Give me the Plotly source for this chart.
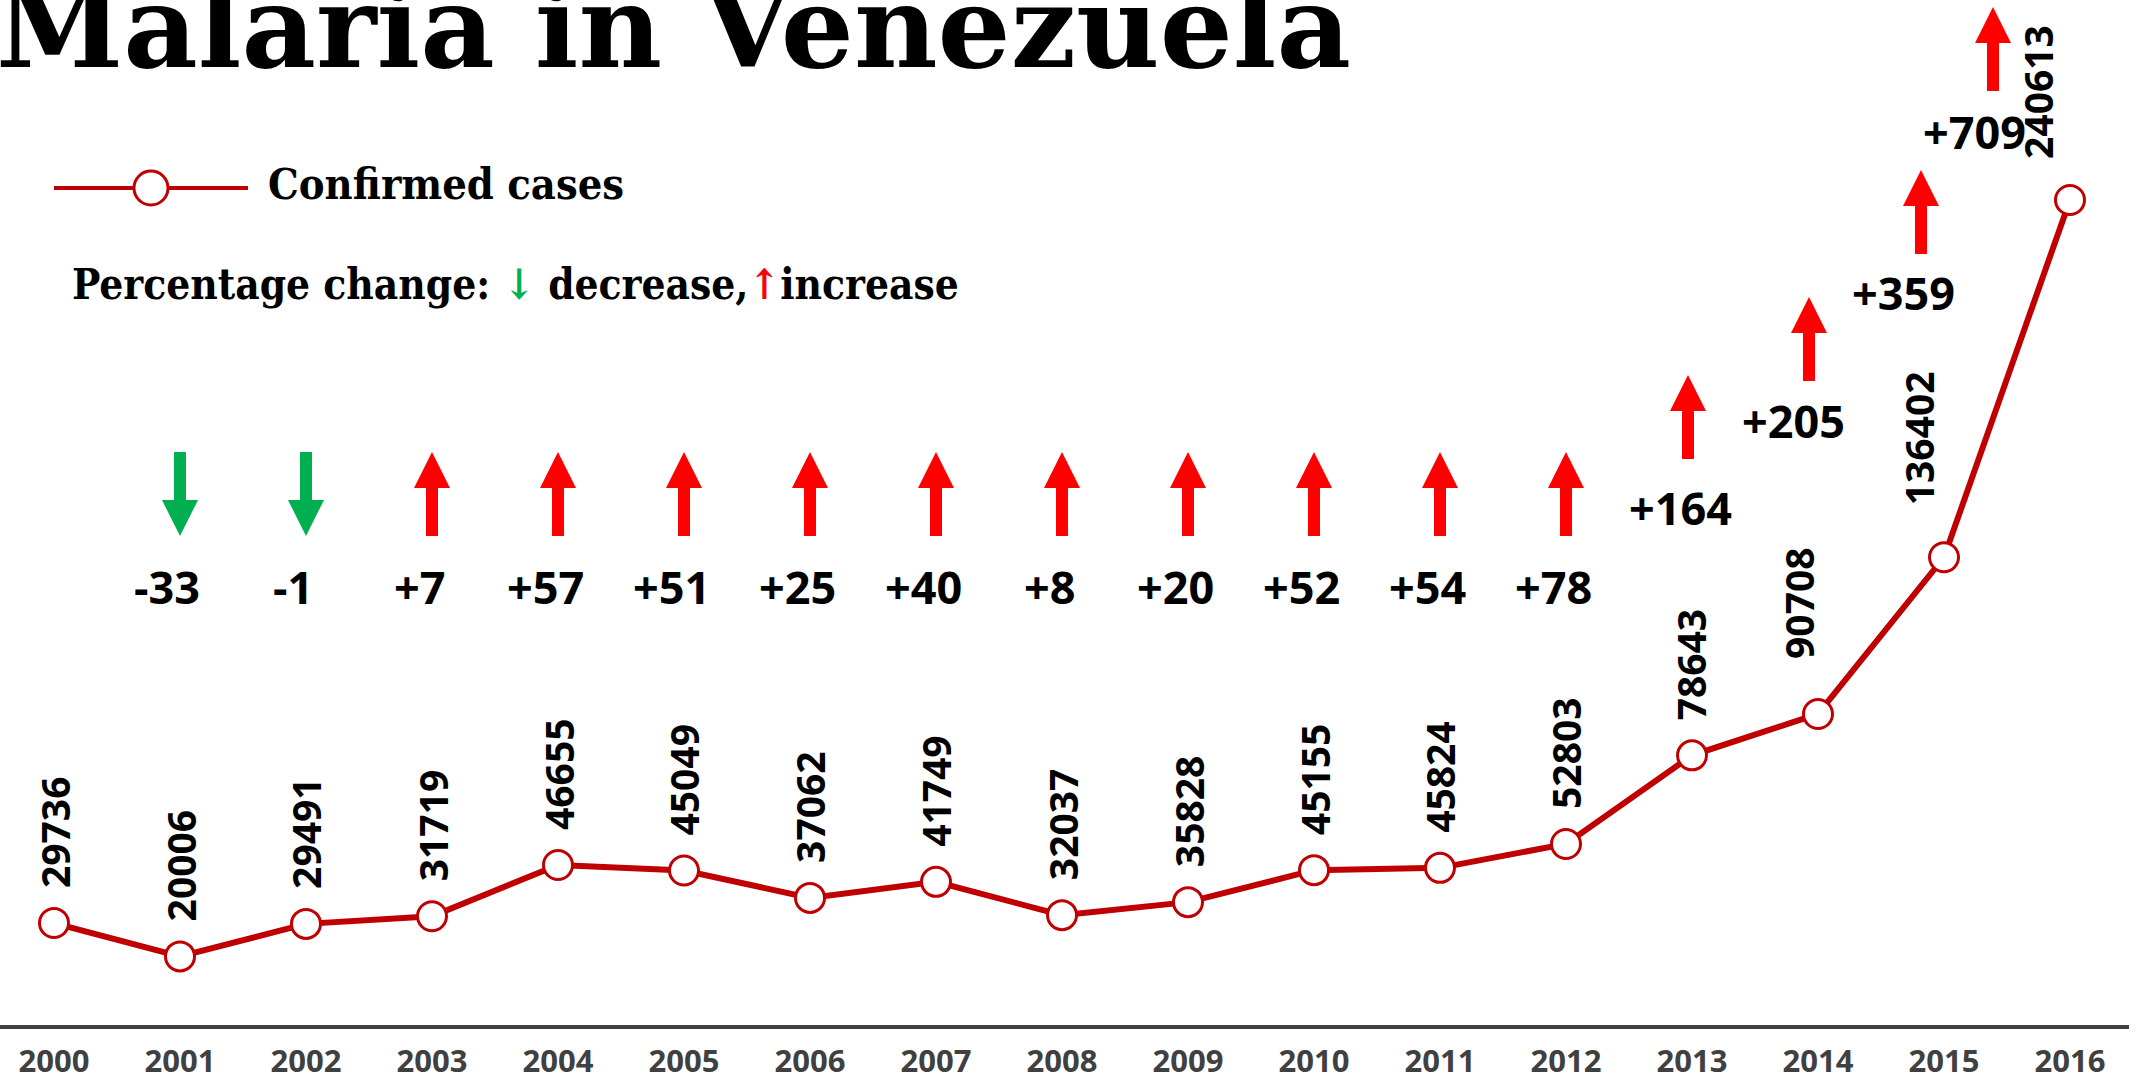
import plotly.graph_objects as go

# data
years = list(range(2000, 2017))
cases = [29736, 20006, 29491, 31719, 46655, 45049, 37062, 41749, 32037,
         35828, 45155, 45824, 52803, 78643, 90708, 136402, 240613]
pct_years = list(range(2001, 2017))
pct_change = [-33, -1, 7, 57, 51, 25, 40, 8, 20, 52, 54, 78, 164, 205, 359, 709]

W, H = 2136, 1081
ML, MR, MT, MB = 0, 7, 0, 56
plot_w = W - ML - MR
plot_h = H - MT - MB
px_per_case = 0.003429
ymax = plot_h / px_per_case

LINE_RED = "#C00000"
UP_RED = "#FF0000"
DOWN_GREEN = "#00B050"
SERIF = "DejaVu Serif Condensed, DejaVu Serif, serif"
SANS = "Open Sans, Noto Sans, sans-serif"


def py(pix):
    # pixel row from top of plot area -> paper y
    return (plot_h - pix) / plot_h


def pxp(pix):
    return pix / plot_w


# layout of the percentage arrows / labels (pixels), not data
arrow_top = [452] * 12 + [375, 297, 170, 7]
arrow_dx = [0] * 12 + [-4, -9, -23, -77]
label_y = [586] * 12 + [507, 420, 292, 131]
label_dx = [-13] * 12 + [-12, -25, -41, -96]
value_dx = [0] * 13 + [-2, -19, -26, -32]
value_dy = [33] * 13 + [33, 53, 50, 39]


def arrow_path(up, dx):
    # fat block arrow, tip at the anchor for up, top at the anchor for down
    if up:
        pts = [(0, 0), (18, -36), (6, -36), (6, -84), (-6, -84), (-6, -36), (-18, -36)]
    else:
        pts = [(0, -84), (18, -48), (6, -48), (6, 0), (-6, 0), (-6, -48), (-18, -48)]
    return "M" + "L".join("%g,%g" % (a + dx, b) for a, b in pts) + "Z"


fig = go.Figure()
fig.add_trace(go.Scatter(
    x=years, y=cases, mode="lines+markers",
    line=dict(color=LINE_RED, width=6),
    marker=dict(size=29, color="white", line=dict(color=LINE_RED, width=3)),
    showlegend=False, hoverinfo="x+y"))

annotations = []
shapes = []

# value labels
for i, (yr, v) in enumerate(zip(years, cases)):
    annotations.append(dict(
        x=yr, y=v, xref="x", yref="y", text=str(v), showarrow=False,
        textangle=-90, xanchor="center", yanchor="bottom",
        xshift=value_dx[i], yshift=value_dy[i],
        font=dict(family=SANS, size=39, color="black", weight=700)))

# percentage change arrows + labels
for i, (yr, p) in enumerate(zip(pct_years, pct_change)):
    up = p > 0
    shapes.append(dict(
        type="path", xref="x", yref="paper",
        xsizemode="pixel", ysizemode="pixel",
        xanchor=yr, yanchor=py(arrow_top[i]),
        path=arrow_path(up, arrow_dx[i]),
        fillcolor=UP_RED if up else DOWN_GREEN, line=dict(width=0)))
    annotations.append(dict(
        x=yr, y=py(label_y[i]), xref="x", yref="paper",
        text=("+%d" % p) if up else str(p), showarrow=False,
        xanchor="center", yanchor="middle", xshift=label_dx[i],
        font=dict(family=SANS, size=45, color="black", weight=700)))

# title
annotations.append(dict(
    x=pxp(-6), y=py(96), xref="paper", yref="paper", text="<b>Malaria in Venezuela</b>",
    showarrow=False, xanchor="left", yanchor="bottom",
    font=dict(family="DejaVu Serif, serif", size=115, color="black")))

# legend
shapes.append(dict(type="line", xref="paper", yref="paper",
                   x0=pxp(54), x1=pxp(248), y0=py(188), y1=py(188),
                   line=dict(color=LINE_RED, width=4)))
shapes.append(dict(type="circle", xref="paper", yref="paper",
                   xsizemode="pixel", ysizemode="pixel",
                   xanchor=pxp(151), yanchor=py(188),
                   x0=-17, x1=17, y0=-17, y1=17,
                   fillcolor="white", line=dict(color=LINE_RED, width=3)))
annotations.append(dict(
    x=pxp(266), y=py(184), xref="paper", yref="paper", text="<b>Confirmed cases</b>",
    showarrow=False, xanchor="left", yanchor="middle",
    font=dict(family=SERIF, size=43, color="black")))
annotations.append(dict(
    x=pxp(70), y=py(284), xref="paper", yref="paper",
    text=("<b>Percentage change: <span style='color:%s'>↓</span> decrease,"
          "<span style='color:%s'>↑</span>increase</b>" % (DOWN_GREEN, UP_RED)),
    showarrow=False, xanchor="left", yanchor="middle",
    font=dict(family=SERIF, size=42, color="black")))

fig.update_layout(
    width=W, height=H,
    margin=dict(l=ML, r=MR, t=MT, b=MB, autoexpand=False),
    paper_bgcolor="white", plot_bgcolor="white",
    showlegend=False,
    annotations=annotations, shapes=shapes,
    xaxis=dict(range=[2000 - 54 / 126, 2000 + (plot_w - 54) / 126],
               tickmode="array", tickvals=years, ticktext=[str(y) for y in years],
               showgrid=False, zeroline=False, showline=True, automargin=False,
               linecolor="#404040", linewidth=4, ticks="",
               ticklabelstandoff=6,
               tickfont=dict(family=SANS, size=31, color="#404040", weight=700)),
    yaxis=dict(range=[0, ymax], visible=False, showgrid=False, zeroline=False,
               automargin=False),
)

# the page body has an 8px default margin; drop it so the figure fills the window
fig.write_html("out.html", config={"displayModeBar": False},
               post_script="document.body.style.margin='0';document.body.style.overflow='hidden';")
